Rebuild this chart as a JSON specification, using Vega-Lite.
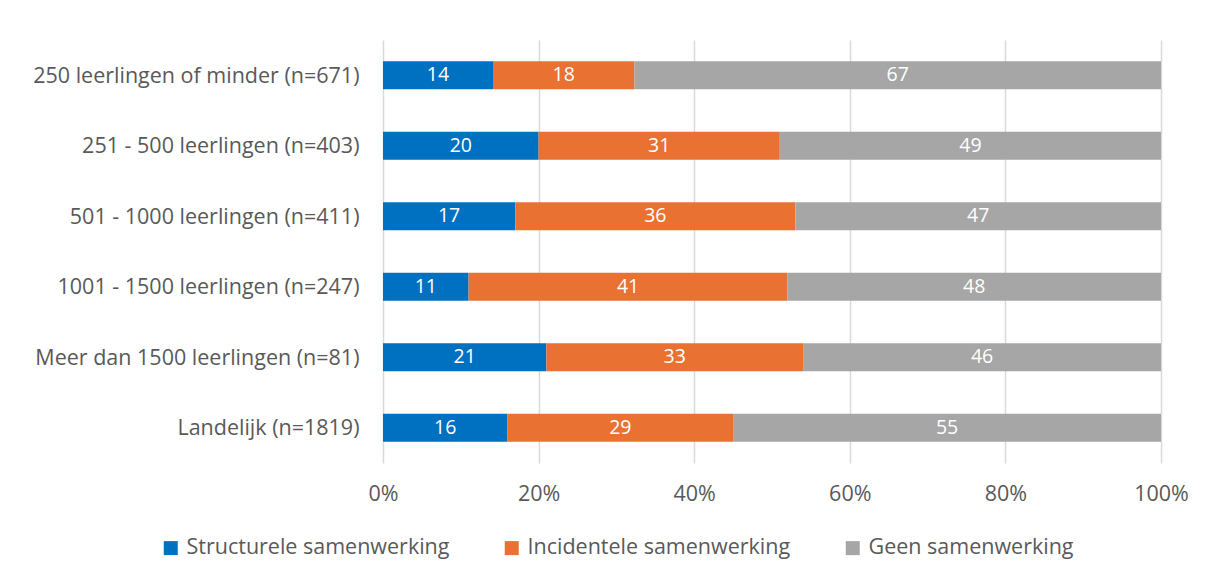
{
  "$schema": "https://vega.github.io/schema/vega-lite/v6.json",
  "width": 778,
  "height": 423,
  "autosize": "none",
  "padding": {"left": 383, "top": 40, "right": 55, "bottom": 117},
  "background": "white",
  "config": {"view": {"stroke": null}, "font": "Open Sans"},
  "data": {
    "values": [
      {"groep": "250 leerlingen of minder (n=671)", "type": "Structurele samenwerking", "volgorde": 1, "waarde": 14},
      {"groep": "250 leerlingen of minder (n=671)", "type": "Incidentele samenwerking", "volgorde": 2, "waarde": 18},
      {"groep": "250 leerlingen of minder (n=671)", "type": "Geen samenwerking", "volgorde": 3, "waarde": 67},
      {"groep": "251 - 500 leerlingen (n=403)", "type": "Structurele samenwerking", "volgorde": 1, "waarde": 20},
      {"groep": "251 - 500 leerlingen (n=403)", "type": "Incidentele samenwerking", "volgorde": 2, "waarde": 31},
      {"groep": "251 - 500 leerlingen (n=403)", "type": "Geen samenwerking", "volgorde": 3, "waarde": 49},
      {"groep": "501 - 1000 leerlingen (n=411)", "type": "Structurele samenwerking", "volgorde": 1, "waarde": 17},
      {"groep": "501 - 1000 leerlingen (n=411)", "type": "Incidentele samenwerking", "volgorde": 2, "waarde": 36},
      {"groep": "501 - 1000 leerlingen (n=411)", "type": "Geen samenwerking", "volgorde": 3, "waarde": 47},
      {"groep": "1001 - 1500 leerlingen (n=247)", "type": "Structurele samenwerking", "volgorde": 1, "waarde": 11},
      {"groep": "1001 - 1500 leerlingen (n=247)", "type": "Incidentele samenwerking", "volgorde": 2, "waarde": 41},
      {"groep": "1001 - 1500 leerlingen (n=247)", "type": "Geen samenwerking", "volgorde": 3, "waarde": 48},
      {"groep": "Meer dan 1500 leerlingen (n=81)", "type": "Structurele samenwerking", "volgorde": 1, "waarde": 21},
      {"groep": "Meer dan 1500 leerlingen (n=81)", "type": "Incidentele samenwerking", "volgorde": 2, "waarde": 33},
      {"groep": "Meer dan 1500 leerlingen (n=81)", "type": "Geen samenwerking", "volgorde": 3, "waarde": 46},
      {"groep": "Landelijk (n=1819)", "type": "Structurele samenwerking", "volgorde": 1, "waarde": 16},
      {"groep": "Landelijk (n=1819)", "type": "Incidentele samenwerking", "volgorde": 2, "waarde": 29},
      {"groep": "Landelijk (n=1819)", "type": "Geen samenwerking", "volgorde": 3, "waarde": 55}
    ]
  },
  "encoding": {
    "y": {
      "field": "groep",
      "type": "nominal",
      "sort": null,
      "scale": {"paddingInner": 0.6, "paddingOuter": 0.3},
      "axis": {"title": null, "domain": false, "ticks": false, "labelFontSize": 21.5, "labelColor": "#595959", "labelPadding": 24, "labelLimit": 400, "labelOffset": 1.5}
    },
    "order": {"field": "volgorde", "type": "quantitative"}
  },
  "layer": [
    {
      "mark": {"type": "bar"},
      "encoding": {
        "x": {
          "field": "waarde",
          "type": "quantitative",
          "stack": "normalize",
          "scale": {"domain": [0, 1]},
          "axis": {"title": null, "format": "%", "values": [0, 0.2, 0.4, 0.6, 0.8, 1], "grid": true, "gridColor": "#D9D9D9", "gridWidth": 1.5, "domain": false, "ticks": false, "labelFlush": false, "labelFontSize": 21.5, "labelColor": "#595959", "labelPadding": 20}
        },
        "color": {
          "field": "type",
          "type": "nominal",
          "sort": ["Structurele samenwerking", "Incidentele samenwerking", "Geen samenwerking"],
          "scale": {"domain": ["Structurele samenwerking", "Incidentele samenwerking", "Geen samenwerking"], "range": ["#0070C0", "#E97132", "#A6A6A6"]},
          "legend": {"title": null, "orient": "none", "legendX": -223, "legendY": 497, "direction": "horizontal", "symbolType": "square", "symbolSize": 196, "symbolStrokeWidth": 0, "labelFontSize": 21.5, "labelColor": "#595959", "labelOffset": 5, "columnPadding": 51, "labelLimit": 400}
        }
      }
    },
    {
      "mark": {"type": "text", "color": "white", "fontSize": 19.5},
      "encoding": {
        "x": {"field": "waarde", "type": "quantitative", "stack": "normalize", "bandPosition": 0.5},
        "detail": {"field": "type", "type": "nominal"},
        "text": {"field": "waarde", "type": "quantitative"}
      }
    }
  ]
}
